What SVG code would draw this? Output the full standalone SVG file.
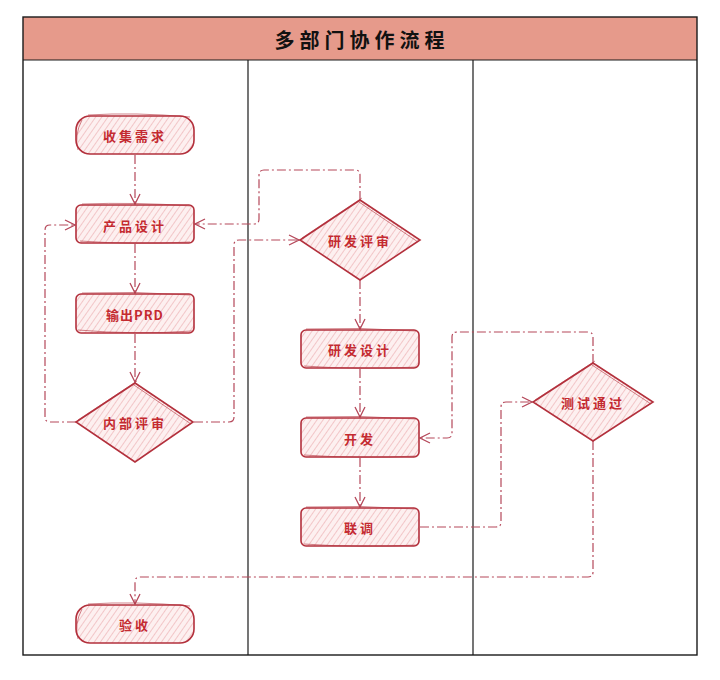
<svg xmlns="http://www.w3.org/2000/svg" width="720" height="680" viewBox="0 0 720 680">
<style>
.frame{fill:none;stroke:#1a1a1a;stroke-width:1.4}
.lane{stroke:#1a1a1a;stroke-width:1.2}
.shape{fill:url(#hatch);stroke:#b3303c;stroke-width:1.6}
.sketch{fill:none;stroke:#b3303c;stroke-width:0.8;opacity:0.75}
.lbl{font-family:"Noto Sans CJK SC","Noto Sans",sans-serif;font-weight:700;font-size:13px;fill:#c42a30;letter-spacing:3px;text-anchor:middle;dominant-baseline:central}
.title{font-family:"Noto Sans CJK SC","Noto Sans",sans-serif;font-weight:700;font-size:20px;fill:#111;letter-spacing:5px;text-anchor:middle;dominant-baseline:central}
.conn{fill:none;stroke:#b5485a;stroke-width:1.2;stroke-dasharray:9 3 2 3}
</style>
<defs>
<pattern id="hatch" patternUnits="userSpaceOnUse" width="5" height="5" patternTransform="rotate(35)">
<rect width="5" height="5" fill="#fdf0f0"/>
<line x1="0" y1="0" x2="0" y2="5" stroke="#eaa3a8" stroke-width="1.1"/>
</pattern>
<marker id="arr" viewBox="0 0 12 12" refX="11" refY="6" markerWidth="12" markerHeight="12" markerUnits="userSpaceOnUse" orient="auto">
<path d="M1,1 L11,6 L1,11" fill="none" stroke="#b5485a" stroke-width="1.3"/>
</marker>
</defs>
<rect x="0" y="0" width="720" height="680" fill="#ffffff"/>
<g id="frame">
<rect x="23" y="17" width="674" height="43" fill="#e69a8b"/>
<rect class="frame" x="23" y="17" width="674" height="638"/>
<line class="lane" x1="23" y1="60" x2="697" y2="60"/>
<line class="lane" x1="248" y1="60" x2="248" y2="655"/>
<line class="lane" x1="473" y1="60" x2="473" y2="655"/>
<text class="title" x="362" y="39">多部门协作流程</text>
</g>
<g id="connectors">
<path class="conn" marker-end="url(#arr)" d="M135,155 L135,204"/>
<path class="conn" marker-end="url(#arr)" d="M135,244 L135,293"/>
<path class="conn" marker-end="url(#arr)" d="M135,334 L135,382"/>
<path class="conn" marker-end="url(#arr)" d="M76,422 L50,422 Q45,422 45,417 L45,230 Q45,225 50,225 L75,225"/>
<path class="conn" marker-end="url(#arr)" d="M194,422 L229,422 Q234,422 234,417 L234,245 Q234,240 239,240 L299,240"/>
<path class="conn" marker-end="url(#arr)" d="M360,200 L360,175 Q360,170 355,170 L264,170 Q259,170 259,175 L259,219 Q259,224 254,224 L195,224"/>
<path class="conn" marker-end="url(#arr)" d="M360,280 L360,329"/>
<path class="conn" marker-end="url(#arr)" d="M360,369 L360,417"/>
<path class="conn" marker-end="url(#arr)" d="M360,458 L360,507"/>
<path class="conn" marker-end="url(#arr)" d="M420,527 L496,527 Q501,527 501,522 L501,407 Q501,402 506,402 L532,402"/>
<path class="conn" marker-end="url(#arr)" d="M593,363 L593,337 Q593,332 588,332 L457,332 Q452,332 452,337 L452,433 Q452,438 447,438 L420,438"/>
<path class="conn" marker-end="url(#arr)" d="M593,441 L593,572 Q593,577 588,577 L140,577 Q135,577 135,582 L135,604"/>
</g>
<g id="n-collect">
<rect class="shape" x="76" y="116" width="118" height="38" rx="14"/>
<path class="sketch" d="M88,115 Q135,112 190,117 M78,150 Q74,135 82,120"/>
<text class="lbl" x="135" y="135">收集需求</text>
</g>
<g id="n-design">
<rect class="shape" x="76" y="205" width="118" height="38" rx="5"/>
<path class="sketch" d="M82,204 Q135,202 192,206 M80,241 Q135,245 190,242"/>
<text class="lbl" x="135" y="225">产品设计</text>
</g>
<g id="n-prd">
<rect class="shape" x="76" y="294" width="118" height="39" rx="5"/>
<path class="sketch" d="M82,293 Q135,291 190,295 M78,330 Q135,335 192,331"/>
<text class="lbl" x="135" y="314" style="letter-spacing:1px">输出PRD</text>
</g>
<g id="n-review">
<polygon class="shape" points="135,383 193,422 135,462 76,422"/>
<path class="sketch" d="M134,385 L191,424 M78,420 L137,381"/>
<text class="lbl" x="135" y="422">内部评审</text>
</g>
<g id="n-accept">
<rect class="shape" x="76" y="605" width="118" height="38" rx="14"/>
<path class="sketch" d="M88,604 Q135,601 190,606 M78,639 Q74,624 82,609"/>
<text class="lbl" x="135" y="624">验收</text>
</g>
<g id="n-devreview">
<polygon class="shape" points="360,200 420,240 360,280 300,240"/>
<path class="sketch" d="M359,202 L418,242 M302,238 L362,198"/>
<text class="lbl" x="360" y="240">研发评审</text>
</g>
<g id="n-devdesign">
<rect class="shape" x="301" y="330" width="118" height="38" rx="5"/>
<path class="sketch" d="M306,329 Q360,327 416,331 M304,366 Q360,370 417,367"/>
<text class="lbl" x="360" y="349">研发设计</text>
</g>
<g id="n-dev">
<rect class="shape" x="301" y="418" width="118" height="39" rx="5"/>
<path class="sketch" d="M306,417 Q360,415 416,419 M304,455 Q360,459 417,456"/>
<text class="lbl" x="360" y="438">开发</text>
</g>
<g id="n-joint">
<rect class="shape" x="301" y="508" width="118" height="38" rx="5"/>
<path class="sketch" d="M306,507 Q360,505 416,509 M304,544 Q360,548 417,545"/>
<text class="lbl" x="360" y="527">联调</text>
</g>
<g id="n-test">
<polygon class="shape" points="593,363 653,402 593,441 533,402"/>
<path class="sketch" d="M592,365 L651,404 M535,400 L595,361"/>
<text class="lbl" x="593" y="402">测试通过</text>
</g>
</svg>
